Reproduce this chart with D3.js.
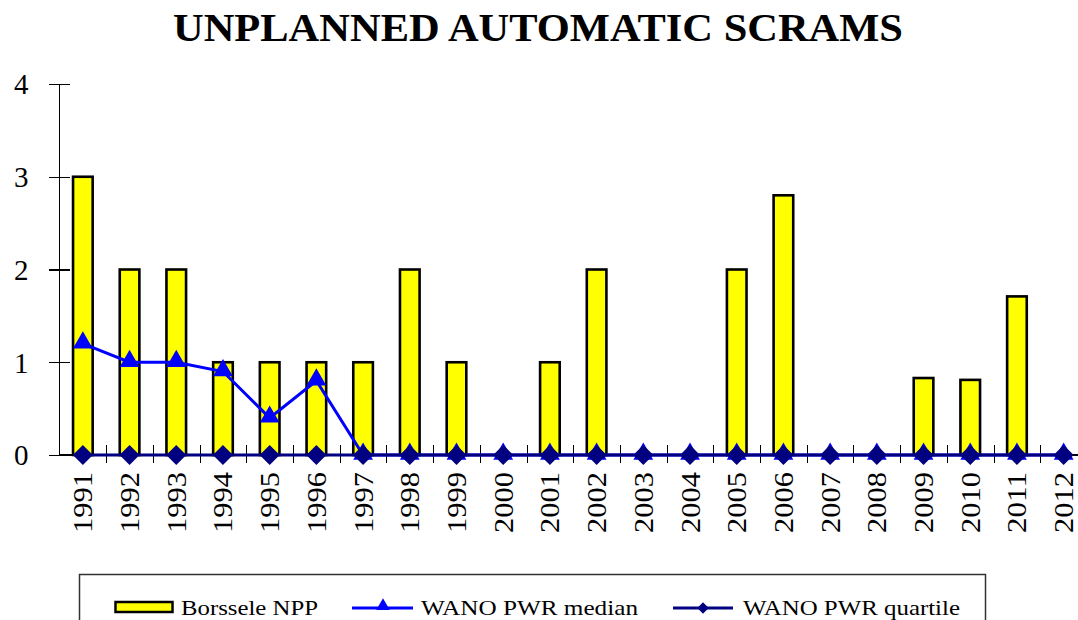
<!DOCTYPE html>
<html lang="en">
  <head>
    <meta charset="utf-8">
    <title>Unplanned automatic scrams</title>
    <script src="https://cdn.jsdelivr.net/npm/d3@7"></script>
    <style>
      body { margin: 0; background: #fff; }
      .axis path, .axis line { fill: none; stroke: #000; stroke-width: 1.4; shape-rendering: crispEdges; }
    </style>
  </head>
  <body>
    <script>
      // data
      var years = ["1991","1992","1993","1994","1995","1996","1997","1998","1999","2000","2001",
                   "2002","2003","2004","2005","2006","2007","2008","2009","2010","2011","2012"];
      var borssele = [3, 2, 2, 1, 1, 1, 1, 2, 1, 0, 1, 2, 0, 0, 2, 2.8, 0, 0, 0.83, 0.81, 1.71, 0];
      var median   = [1.2, 1, 1, 0.9, 0.4, 0.8, 0, 0, 0, 0, 0, 0, 0, 0, 0, 0, 0, 0, 0, 0, 0, 0];
      var quartile = [0, 0, 0, 0, 0, 0, 0, 0, 0, 0, 0, 0, 0, 0, 0, 0, 0, 0, 0, 0, 0, 0];
      var yTicks = [0, 1, 2, 3, 4];
      var seriesNames = ["Borssele NPP", "WANO PWR median", "WANO PWR quartile"];

      var FONT = "Liberation Serif";
      var W = 1078, H = 620;
      var svg = d3.select("body").append("svg")
        .attr("width", W)
        .attr("height", H)
        .attr("font-family", FONT);

      var x = d3.scaleBand().domain(years).range([59.5, 1087]);
      var y = d3.scaleLinear().domain([0, 4]).range([455, 84]);
      var cx = function(i) { return x(years[i]) + x.bandwidth() / 2; };

      // title
      svg.append("text")
        .attr("x", 538).attr("y", 41)
        .attr("text-anchor", "middle")
        .attr("font-family", FONT)
        .attr("font-size", 39)
        .attr("font-weight", "bold")
        .attr("textLength", 730)
        .attr("lengthAdjust", "spacingAndGlyphs")
        .text("UNPLANNED AUTOMATIC SCRAMS");

      // bars
      var bw = x.bandwidth() * 0.42;
      svg.selectAll("rect.bar")
        .data(borssele)
        .enter().append("rect")
        .attr("class", "bar")
        .attr("x", function(d, i) { return cx(i) - bw / 2; })
        .attr("y", function(d) { return y(d); })
        .attr("width", bw)
        .attr("height", function(d) { return y(0) - y(d); })
        .attr("fill", "#ffff00")
        .attr("stroke", "#000")
        .attr("stroke-width", function(d) { return d > 0 ? 2.6 : 0; });

      // y axis
      var yAxis = d3.axisLeft(y).tickValues(yTicks).tickSize(0).tickFormat(d3.format("d"));
      var gy = svg.append("g").attr("class", "axis")
        .attr("transform", "translate(59.5,0)")
        .call(yAxis);
      gy.attr("font-family", FONT);
      gy.select(".domain").remove();
      gy.append("line").attr("x1", 0).attr("x2", 0).attr("y1", y(4)).attr("y2", y(0));
      gy.selectAll(".tick line").remove();
      gy.selectAll(".tick").append("line").attr("x1", -11).attr("x2", 10);
      gy.selectAll(".tick text")
        .attr("x", -31)
        .attr("dy", "0.34em")
        .attr("fill", "#000")
        .attr("font-family", FONT)
        .attr("font-size", 29);

      // x axis
      var gx = svg.append("g").attr("class", "axis")
        .attr("transform", "translate(0," + y(0) + ")");
      gx.append("line").attr("x1", 59.5).attr("x2", W).attr("y1", 0).attr("y2", 0);
      gx.selectAll("line.tk")
        .data(years.slice(1))
        .enter().append("line")
        .attr("class", "tk")
        .attr("x1", function(d) { return Math.round(x(d)) + 0.5; })
        .attr("x2", function(d) { return Math.round(x(d)) + 0.5; })
        .attr("y1", -10).attr("y2", 8);
      gx.selectAll("text")
        .data(years)
        .enter().append("text")
        .attr("transform", function(d, i) {
          return "translate(" + (cx(i) + 9.5) + ",17) rotate(-90)";
        })
        .attr("text-anchor", "end")
        .attr("font-family", FONT)
        .attr("font-size", 28)
        .attr("textLength", 61)
        .attr("lengthAdjust", "spacingAndGlyphs")
        .text(function(d) { return d; });

      // lines
      var line = d3.line()
        .x(function(d, i) { return cx(i); })
        .y(function(d) { return y(d); });

      svg.append("path").datum(median)
        .attr("d", line)
        .attr("fill", "none")
        .attr("stroke", "#0000ff")
        .attr("stroke-width", 3);

      var tri = d3.symbol().type(d3.symbolTriangle).size(170);
      svg.selectAll("path.med")
        .data(median)
        .enter().append("path")
        .attr("class", "med")
        .attr("d", tri)
        .attr("transform", function(d, i) {
          return "translate(" + cx(i) + "," + (y(d) - 1) + ")";
        })
        .attr("fill", "#0000ff");

      svg.append("path").datum(quartile)
        .attr("d", line)
        .attr("fill", "none")
        .attr("stroke", "#000080")
        .attr("stroke-width", 3);

      var dia = d3.symbol().type(d3.symbolSquare).size(200);
      svg.selectAll("path.qrt")
        .data(quartile)
        .enter().append("path")
        .attr("class", "qrt")
        .attr("d", dia)
        .attr("transform", function(d, i) {
          return "translate(" + cx(i) + "," + y(d) + ") rotate(45)";
        })
        .attr("fill", "#000080");

      // legend
      var lg = svg.append("g").attr("font-family", FONT);
      lg.append("rect")
        .attr("x", 79.5).attr("y", 574.5)
        .attr("width", 906).attr("height", 60)
        .attr("fill", "#fff")
        .attr("stroke", "#333")
        .attr("stroke-width", 1.5);

      lg.append("rect")
        .attr("x", 115.5).attr("y", 602)
        .attr("width", 57).attr("height", 10)
        .attr("fill", "#ffff00")
        .attr("stroke", "#000")
        .attr("stroke-width", 2.5);

      lg.append("line").attr("x1", 352).attr("x2", 413).attr("y1", 608).attr("y2", 608)
        .attr("stroke", "#0000ff").attr("stroke-width", 3);
      lg.append("path").attr("d", d3.symbol().type(d3.symbolTriangle).size(80))
        .attr("transform", "translate(383,606)").attr("fill", "#0000ff");

      lg.append("line").attr("x1", 673).attr("x2", 733).attr("y1", 608).attr("y2", 608)
        .attr("stroke", "#000080").attr("stroke-width", 3);
      lg.append("path").attr("d", d3.symbol().type(d3.symbolSquare).size(64))
        .attr("transform", "translate(703,608) rotate(45)").attr("fill", "#000080");

      var legX = [181, 421, 743];
      var legW = [137, 217, 217];
      lg.selectAll("text.leg")
        .data(seriesNames)
        .enter().append("text")
        .attr("class", "leg")
        .attr("x", function(d, i) { return legX[i]; })
        .attr("y", 615)
        .attr("font-family", FONT)
        .attr("font-size", 22)
        .attr("textLength", function(d, i) { return legW[i]; })
        .attr("lengthAdjust", "spacingAndGlyphs")
        .text(function(d) { return d; });
    </script>
  </body>
</html>
